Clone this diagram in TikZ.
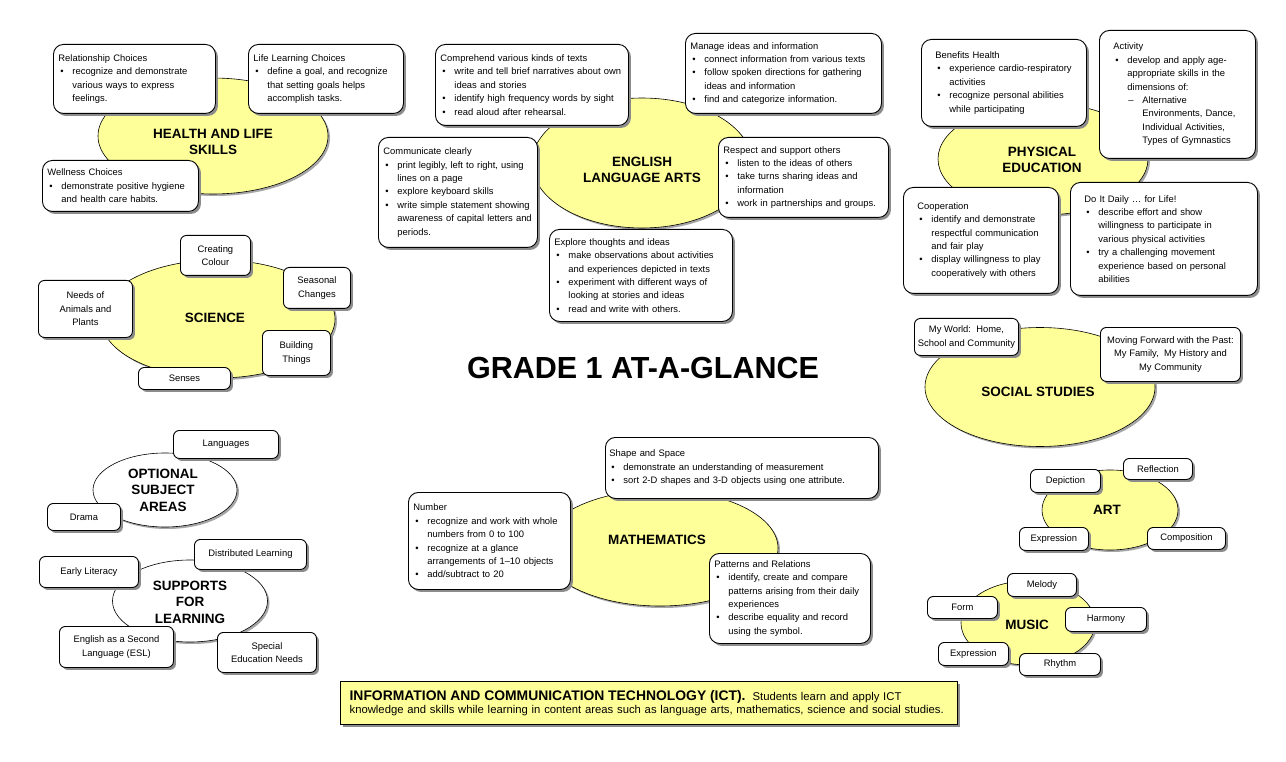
\documentclass[tikz,border=0pt]{standalone}
\usepackage{fontspec}
\setmainfont{Liberation Sans}
\usepackage{tikz}
\usetikzlibrary{shapes.geometric, shadows}

\definecolor{ovalGelb}{HTML}{FFFF99}

\newcommand{\kastenFont}{\fontsize{9.4}{13.4}\selectfont}
\newcommand{\materiaFont}{\fontsize{13.5}{16.5}\selectfont\bfseries}
% punto elenco e trattino (secondo livello)
\newcommand{\pkt}{\par\noindent\hangindent=14pt\hangafter=1\hbox to 14pt{\hskip2pt\textbullet\hfil}}
\newcommand{\trattino}{\par\noindent\hangindent=29pt\hangafter=1\hbox to 29pt{\hskip15pt--\hfil}}

\begin{document}
\begin{tikzpicture}[x=1pt, y=-1pt,
    kasten/.style={draw, line width=0.9pt, rounded corners=10pt, fill=white,
        drop shadow={shadow xshift=2.5pt, shadow yshift=-2.5pt, opacity=1, fill=black!45},
        anchor=north west, inner xsep=5pt, inner ysep=3pt, align=left, font=\kastenFont},
    kastello/.style={kasten, rounded corners=6pt, align=center, inner sep=2pt},
    ovale/.style={ellipse, draw, line width=0.6pt, fill=ovalGelb, inner sep=0pt,
        drop shadow={shadow xshift=2pt, shadow yshift=-2pt, opacity=1, fill=black!35}},
    ovaleBianco/.style={ovale, fill=white},
    materia/.style={font=\materiaFont, align=center}]

    \fill[white] (0,0) rectangle (1286,762);
    \useasboundingbox (0,0) rectangle (1286,762);

    % ==========================================
    % 1. HEALTH AND LIFE SKILLS
    % ==========================================
    \node[ovale, minimum width=230pt, minimum height=116pt] (healthOval) at (213,136) {};
    \node[materia] (healthTitle) at (213,142) {HEALTH AND LIFE\\SKILLS};

    \node[kasten, text width=152pt, minimum height=69pt] (relationshipBox) at (53,44)
        {Relationship Choices\pkt recognize and demonstrate\newline various ways to express\newline feelings.\par};
    \node[kasten, text width=145pt, minimum height=69pt] (lifeBox) at (248,44)
        {Life Learning Choices\pkt define a goal, and recognize\newline that setting goals helps\newline accomplish tasks.\par};
    \node[kasten, text width=146pt, minimum height=51pt] (wellnessBox) at (42,160)
        {Wellness Choices\pkt demonstrate positive hygiene\newline and health care habits.\par};

    % ==========================================
    % 2. ENGLISH LANGUAGE ARTS
    % ==========================================
    \node[ovale, minimum width=220pt, minimum height=130pt] (elaOval) at (642,163) {};
    \node[materia] (elaTitle) at (642,170) {ENGLISH\\LANGUAGE ARTS};

    \node[kasten, text width=183pt, minimum height=81pt] (comprehendBox) at (435,44)
        {Comprehend various kinds of texts\pkt write and tell brief narratives about own\newline ideas and stories\pkt identify high frequency words by sight\pkt read aloud after rehearsal.\par};
    \node[kasten, text width=186pt, minimum height=80pt] (manageBox) at (685,33)
        {Manage ideas and information\pkt connect information from various texts\pkt follow spoken directions for gathering\newline ideas and information\pkt find and categorize information.\par};
    \node[kasten, text width=149pt, minimum height=110pt] (communicateBox) at (378,137)
        {Communicate clearly\pkt print legibly, left to right, using\newline lines on a page\pkt explore keyboard skills\pkt write simple statement showing\newline awareness of capital letters and\newline periods.\par};
    \node[kasten, text width=160pt, minimum height=80pt] (respectBox) at (718,137)
        {Respect and support others\pkt listen to the ideas of others\pkt take turns sharing ideas and\newline information\pkt work in partnerships and groups.\par};
    \node[kasten, text width=173pt, minimum height=92pt] (exploreBox) at (549,229)
        {Explore thoughts and ideas\pkt make observations about activities\newline and experiences depicted in texts\pkt experiment with different ways of\newline looking at stories and ideas\pkt read and write with others.\par};

    % ==========================================
    % 3. PHYSICAL EDUCATION
    % ==========================================
    \node[ovale, minimum width=210pt, minimum height=112pt] (peOval) at (1043,159) {};
    \node[materia] (peTitle) at (1042,160) {PHYSICAL\\EDUCATION};

    \node[kasten, inner xsep=14pt, text width=137pt, minimum height=87pt] (benefitsBox) at (921,39)
        {Benefits Health\pkt experience cardio-respiratory\newline activities\pkt recognize personal abilities\newline while participating\par};
    \node[kasten, inner xsep=14pt, text width=128pt, minimum height=128pt] (activityBox) at (1099,30)
        {Activity\pkt develop and apply age-\newline appropriate skills in the\newline dimensions of:\trattino Alternative\newline Environments, Dance,\newline Individual Activities,\newline Types of Gymnastics\par};
    \node[kasten, inner xsep=14pt, text width=127pt, minimum height=106pt] (cooperationBox) at (903,187)
        {Cooperation\pkt identify and demonstrate\newline respectful communication\newline and fair play\pkt display willingness to play\newline cooperatively with others\par};
    \node[kasten, inner xsep=14pt, text width=159pt, minimum height=113pt] (dailyBox) at (1070,182)
        {Do It Daily … for Life!\pkt describe effort and show\newline willingness to participate in\newline various physical activities\pkt try a challenging movement\newline experience based on personal\newline abilities\par};

    % ==========================================
    % 4. SCIENCE
    % ==========================================
    \node[ovale, minimum width=234pt, minimum height=118pt] (sciOval) at (218,319) {};
    \node[materia] (sciTitle) at (215,318) {SCIENCE};

    \node[kastello, minimum width=70pt, minimum height=40pt] (colourBox) at (180,235) {Creating\\Colour};
    \node[kastello, minimum width=67pt, minimum height=41pt] (seasonalBox) at (283,267) {Seasonal\\Changes};
    \node[kastello, minimum width=94pt, minimum height=57pt] (needsBox) at (38,280) {Needs of\\Animals and\\Plants};
    \node[kastello, minimum width=68pt, minimum height=45pt] (buildingBox) at (262,330) {Building\\Things};
    \node[kastello, minimum width=92pt, minimum height=22pt] (sensesBox) at (138,367) {Senses};

    % titolo centrale
    \node[font=\fontsize{30.5}{36}\selectfont\bfseries] (gradeTitle) at (643,368) {GRADE 1 AT-A-GLANCE};

    % ==========================================
    % 5. OPTIONAL / SUPPORTS (ovali bianchi)
    % ==========================================
    \node[ovaleBianco, minimum width=144pt, minimum height=74pt] (optOval) at (165,490) {};
    \node[materia] (optTitle) at (163,490) {OPTIONAL\\SUBJECT\\AREAS};
    \node[kastello, minimum width=105pt, minimum height=28pt] (languagesBox) at (173,430) {Languages};
    \node[kastello, minimum width=73pt, minimum height=27pt] (dramaBox) at (47,503) {Drama};

    \node[ovaleBianco, minimum width=155pt, minimum height=82pt] (supOval) at (190,601) {};
    \node[materia] (supTitle) at (190,602) {SUPPORTS\\FOR\\LEARNING};
    \node[kastello, minimum width=112pt, minimum height=30pt] (distributedBox) at (194,539) {Distributed Learning};
    \node[kastello, minimum width=99pt, minimum height=31pt] (literacyBox) at (39,556) {Early Literacy};
    \node[kastello, minimum width=114pt, minimum height=41pt] (eslBox) at (59,626) {English as a Second\\Language (ESL)};
    \node[kastello, minimum width=99pt, minimum height=40pt] (specialBox) at (217,632) {Special\\Education Needs};

    % ==========================================
    % 6. MATHEMATICS
    % ==========================================
    \node[ovale, minimum width=236pt, minimum height=116pt] (mathOval) at (660,548) {};
    \node[materia] (mathTitle) at (657,540) {MATHEMATICS};

    \node[kasten, text width=152pt, minimum height=97pt] (numberBox) at (408,492)
        {Number\pkt recognize and work with whole\newline numbers from 0 to 100\pkt recognize at a glance\newline arrangements of 1–10 objects\pkt add/subtract to 20\par};
    \node[kasten, inner xsep=4pt, text width=265pt, minimum height=61pt] (shapeBox) at (605,437)
        {Shape and Space\pkt demonstrate an understanding of measurement\pkt sort 2-D shapes and 3-D objects using one attribute.\par};
    \node[kasten, text width=151pt, minimum height=90pt] (patternsBox) at (709,553)
        {Patterns and Relations\pkt identify, create and compare\newline patterns arising from their daily\newline experiences\pkt describe equality and record\newline using the symbol.\par};

    % ==========================================
    % 7. SOCIAL STUDIES, ART, MUSIC
    % ==========================================
    \node[ovale, minimum width=230pt, minimum height=119pt] (socOval) at (1040,387) {};
    \node[materia] (socTitle) at (1038,392) {SOCIAL STUDIES};
    \node[kastello, minimum width=104pt, minimum height=37pt] (myWorldBox) at (914,318) {My World:~~Home,\\School and Community};
    \node[kastello, minimum width=140pt, minimum height=54pt] (movingBox) at (1100,327) {Moving Forward with the Past:\\My Family,~~My History and\\My Community};

    \node[ovale, minimum width=136pt, minimum height=80pt] (artOval) at (1110,510) {};
    \node[materia] (artTitle) at (1107,510) {ART};
    \node[kastello, minimum width=70pt, minimum height=23pt] (depictionBox) at (1030,469) {Depiction};
    \node[kastello, minimum width=69pt, minimum height=21pt] (reflectionBox) at (1123,458) {Reflection};
    \node[kastello, minimum width=69pt, minimum height=23pt] (artExpressionBox) at (1019,527) {Expression};
    \node[kastello, minimum width=78pt, minimum height=22pt] (compositionBox) at (1147,527) {Composition};

    \node[ovale, minimum width=134pt, minimum height=84pt] (musicOval) at (1028,623) {};
    \node[materia] (musicTitle) at (1027,625) {MUSIC};
    \node[kastello, minimum width=69pt, minimum height=23pt] (melodyBox) at (1007,573) {Melody};
    \node[kastello, minimum width=70pt, minimum height=22pt] (formBox) at (927,596) {Form};
    \node[kastello, minimum width=81pt, minimum height=24pt] (harmonyBox) at (1065,607) {Harmony};
    \node[kastello, minimum width=70pt, minimum height=23pt] (musicExpressionBox) at (938,642) {Expression};
    \node[kastello, minimum width=81pt, minimum height=22pt] (rhythmBox) at (1019,653) {Rhythm};

    % ==========================================
    % 8. ICT (riquadro in basso)
    % ==========================================
    \node[draw, line width=1.2pt, fill=ovalGelb, anchor=north west,
        drop shadow={shadow xshift=2.5pt, shadow yshift=-2.5pt, opacity=1, fill=black!45},
        inner xsep=9pt, inner ysep=3pt, text width=599pt, minimum height=43pt, align=left,
        font=\fontsize{11.3}{13.5}\selectfont] (ictBox) at (340,681)
        {{\fontsize{13.9}{13.5}\selectfont\bfseries INFORMATION AND COMMUNICATION TECHNOLOGY (ICT).}\hspace{7pt}Students learn and apply ICT\newline knowledge and skills while learning in content areas such as language arts, mathematics, science and social studies.\par};

\end{tikzpicture}
\end{document}
